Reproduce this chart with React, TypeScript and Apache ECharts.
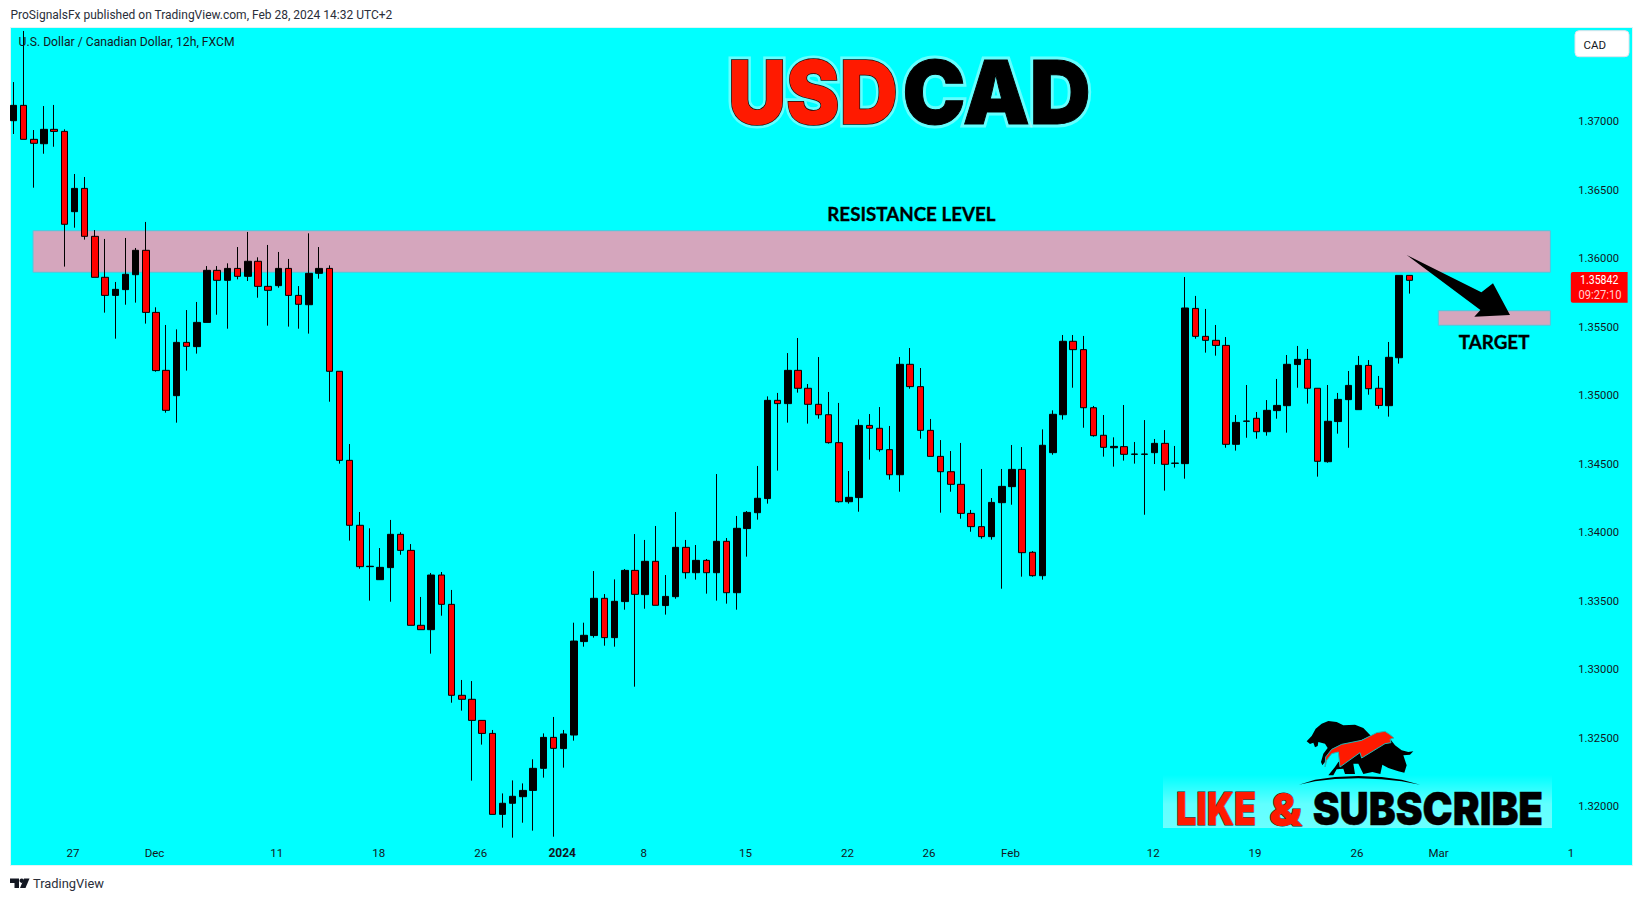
import React, { useEffect, useRef } from "react";
import * as echarts from "echarts";

const opens = [1.37007,1.37119,1.36871,1.36839,1.36944,1.36929,1.36343,1.36513,1.36163,1.35864,1.35732,1.35774,1.35883,1.36061,1.35608,1.35185,1.35000,1.35389,1.35358,1.35535,1.35915,1.35842,1.35929,1.35871,1.35981,1.35798,1.35803,1.35929,1.35732,1.35664,1.35893,1.35929,1.35178,1.34528,1.34054,1.33752,1.33657,1.33745,1.33988,1.33871,1.33324,1.33292,1.33691,1.33477,1.32813,1.32784,1.32630,1.32535,1.31944,1.32025,1.32073,1.32119,1.32280,1.32506,1.32424,1.32523,1.33205,1.33249,1.33521,1.33234,1.33497,1.33725,1.33548,1.33791,1.33468,1.33533,1.33893,1.33708,1.33798,1.33708,1.33937,1.33562,1.34030,1.34146,1.34249,1.34966,1.34942,1.35185,1.35054,1.34937,1.34861,1.34657,1.34226,1.34256,1.34783,1.34762,1.34606,1.34423,1.35229,1.35066,1.34747,1.34557,1.34445,1.34353,1.34141,1.34044,1.33971,1.34219,1.34336,1.34462,1.33857,1.33686,1.34584,1.34861,1.35397,1.35336,1.34912,1.34711,1.34620,1.34628,1.34572,1.34572,1.34584,1.34652,1.34506,1.34504,1.35637,1.35433,1.35404,1.35367,1.34645,1.34813,1.34835,1.34737,1.34891,1.34927,1.35227,1.35265,1.35054,1.34518,1.34811,1.34971,1.34898,1.35221,1.35054,1.34927,1.35277,1.35878];
const closes = [1.37119,1.36871,1.36842,1.36944,1.36929,1.36251,1.36513,1.36163,1.35864,1.35732,1.35776,1.35886,1.36061,1.35608,1.35183,1.34893,1.35389,1.35360,1.35535,1.35915,1.35842,1.35929,1.35871,1.35981,1.35798,1.35769,1.35929,1.35732,1.35667,1.35893,1.35929,1.35178,1.34528,1.34054,1.33752,1.33755,1.33747,1.33988,1.33871,1.33324,1.33292,1.33691,1.33477,1.32813,1.32784,1.32630,1.32535,1.31944,1.32025,1.32076,1.32119,1.32280,1.32506,1.32426,1.32531,1.33209,1.33251,1.33521,1.33234,1.33499,1.33725,1.33550,1.33791,1.33470,1.33535,1.33893,1.33708,1.33798,1.33708,1.33937,1.33562,1.34032,1.34148,1.34251,1.34966,1.34942,1.35185,1.35054,1.34937,1.34861,1.34657,1.34226,1.34258,1.34783,1.34762,1.34606,1.34423,1.35229,1.35066,1.34747,1.34557,1.34445,1.34353,1.34141,1.34044,1.33971,1.34221,1.34338,1.34462,1.33854,1.33686,1.34638,1.34864,1.35397,1.35336,1.34912,1.34708,1.34623,1.34630,1.34572,1.34574,1.34574,1.34652,1.34499,1.34508,1.35640,1.35433,1.35404,1.35367,1.34645,1.34805,1.34815,1.34737,1.34893,1.34929,1.35229,1.35265,1.35054,1.34521,1.34813,1.34973,1.35075,1.35221,1.35051,1.34929,1.35280,1.35878,1.35842];
const lows = [1.36910,1.36871,1.36518,1.36766,1.36817,1.35942,1.36226,1.36139,1.35864,1.35606,1.35416,1.35664,1.35679,1.35526,1.35175,1.34876,1.34803,1.35183,1.35307,1.35535,1.35591,1.35489,1.35849,1.35837,1.35715,1.35511,1.35788,1.35504,1.35489,1.35453,1.35854,1.34956,1.34504,1.33942,1.33737,1.33504,1.33657,1.33496,1.33839,1.33324,1.33292,1.33117,1.33394,1.32759,1.32701,1.32190,1.32453,1.31944,1.31847,1.31774,1.31883,1.31825,1.32212,1.31781,1.32285,1.32482,1.33168,1.33234,1.33175,1.33168,1.33438,1.32876,1.33445,1.33470,1.33402,1.33518,1.33664,1.33657,1.33555,1.33504,1.33482,1.33438,1.33825,1.34095,1.34212,1.34453,1.34803,1.35022,1.34796,1.34832,1.34650,1.34219,1.34212,1.34153,1.34533,1.34591,1.34387,1.34299,1.35051,1.34686,1.34557,1.34146,1.34299,1.34102,1.34007,1.33956,1.33949,1.33591,1.34204,1.33679,1.33679,1.33657,1.34569,1.34825,1.35058,1.34766,1.34701,1.34555,1.34482,1.34526,1.34504,1.34131,1.34501,1.34307,1.34475,1.34394,1.35416,1.35314,1.35292,1.34620,1.34599,1.34693,1.34686,1.34708,1.34832,1.34730,1.35058,1.34942,1.34409,1.34511,1.34723,1.34620,1.34898,1.35007,1.34905,1.34847,1.35234,1.35745];
const highs = [1.37289,1.37662,1.36939,1.37114,1.37122,1.36944,1.36618,1.36596,1.36209,1.36144,1.35830,1.36151,1.36078,1.36268,1.35645,1.35516,1.35484,1.35625,1.35684,1.35946,1.35946,1.35966,1.36085,1.36195,1.36010,1.36100,1.36049,1.35998,1.35800,1.36185,1.36085,1.35951,1.35178,1.34647,1.34151,1.34032,1.33888,1.34093,1.34003,1.33917,1.33531,1.33706,1.33713,1.33582,1.32925,1.32917,1.32630,1.32560,1.32097,1.32192,1.32170,1.32346,1.32535,1.32655,1.32560,1.33343,1.33343,1.33720,1.33552,1.33659,1.33735,1.33990,1.33947,1.34049,1.33691,1.34151,1.33947,1.33910,1.33808,1.34428,1.33961,1.34122,1.34158,1.34487,1.34995,1.35020,1.35311,1.35421,1.35085,1.35282,1.35027,1.34947,1.34450,1.34827,1.34866,1.34917,1.34779,1.35282,1.35348,1.35202,1.34830,1.34676,1.34596,1.34655,1.34166,1.34465,1.34253,1.34465,1.34640,1.34625,1.33866,1.34754,1.34893,1.35443,1.35443,1.35436,1.34925,1.34859,1.34696,1.34932,1.34662,1.34822,1.34684,1.34749,1.34633,1.35866,1.35728,1.35633,1.35516,1.35428,1.34859,1.35078,1.34881,1.34968,1.35122,1.35297,1.35363,1.35341,1.35054,1.35078,1.35020,1.35180,1.35290,1.35260,1.35144,1.35392,1.35878,1.35878];

const slotCount = 159;
const tickSlots = [6, 14, 26, 36, 46, 54, 62, 72, 82, 90, 98, 112, 122, 132, 140, 153];
const tickLabels = ["27", "Dec", "11", "18", "26", "2024", "8", "15", "22", "26", "Feb", "12", "19", "26", "Mar", "1"];
const priceMin = 1.315;
const priceMax = 1.37888;
const priceStep = 0.005;
const lastPrice = "1.35842";
const countdown = "09:27:10";

const categories: string[] = Array.from({ length: slotCount }, (_, i) => {
  const k = tickSlots.indexOf(i);
  return k >= 0 ? tickLabels[k] : "";
});
const candles = opens.map((o, i) => [o, closes[i], lows[i], highs[i]]);

const measure = (text: string, font: string) => {
  const c = document.createElement("canvas").getContext("2d")!;
  c.font = font;
  return c.measureText(text).width;
};

const txt = (text: string, x: number, y: number, font: string, fill: string, width?: number, extra: any = {}, z = 20) => ({
  type: "text",
  x,
  y,
  z,
  scaleX: width ? width / measure(text, font) : 1,
  silent: true,
  style: { text, font, fill, textAlign: "left", textVerticalAlign: "middle", ...extra },
});

const poly = (points: number[][], fill: string, z = 21, extra: any = {}) => ({
  type: "polygon",
  z,
  silent: true,
  shape: { points },
  style: { fill, ...extra },
});

const lp = (pts: number[][]) => pts.map(([X, Y]) => [1295 + X / 3, 712 + Y / 3]);

const heavy = "900 88px Inter, 'Liberation Sans'";
const heavy2 = "900 45px Inter, 'Liberation Sans'";
const glow = { stroke: "rgba(225,255,255,0.45)", lineWidth: 7 };

const bear = lp([[35,88],[50,72],[62,50],[80,35],[100,27],[125,30],[145,40],[180,38],[205,48],[228,72],[180,92],[140,100],[105,125],[90,150],[82,160],[78,150],[85,125],[98,108],[90,95],[70,90],[68,102],[60,106],[55,92],[45,96]]);
const bull = lp([[285,80],[300,100],[320,115],[340,120],[355,118],[345,128],[325,130],[335,160],[328,182],[310,178],[280,168],[262,158],[256,186],[232,180],[205,186],[190,155],[175,155],[180,186],[150,186],[145,170],[125,172],[115,190],[100,190],[120,165],[130,150],[180,125],[220,110]]);
const arrowShape = lp([[90,165],[92,135],[110,112],[140,97],[200,85],[245,62],[270,58],[285,68],[297,78],[285,82],[288,92],[270,95],[200,138],[195,122],[135,165],[130,120],[110,125],[95,145]]);
const arch = lp([[12,218],[60,203],[120,195],[190,192],[260,195],[320,203],[375,218],[320,208],[260,202],[190,199],[120,201],[60,208]]);

export default function App() {
  const ref = useRef<HTMLDivElement>(null);
  useEffect(() => {
    const chart = echarts.init(ref.current!, undefined, { renderer: "svg" });
    chart.setOption({
      animation: false,
      backgroundColor: "#ffffff",
      grid: { left: 8.3, top: 0, width: 1620.2, height: 875.2, containLabel: false },
      xAxis: {
        type: "category",
        data: categories,
        boundaryGap: true,
        axisLine: { show: false },
        axisTick: { show: false },
        splitLine: { show: false },
        axisLabel: {
          inside: true,
          margin: 16.5,
          padding: [0, 3, 0, 0],
          fontFamily: "Roboto",
          fontSize: 11.5,
          color: "#131722",
          hideOverlap: false,
          interval: (_i: number, v: string) => v !== "",
          formatter: (v: string) => (v === "2024" ? "{b|2024}" : v),
          rich: { b: { fontFamily: "Roboto", fontWeight: "bold", fontSize: 12, color: "#131722" } },
        },
      },
      yAxis: {
        type: "value",
        position: "right",
        min: priceMin,
        max: priceMax,
        interval: priceStep,
        scale: true,
        axisLine: { show: false },
        axisTick: { show: false },
        splitLine: { show: false },
        axisLabel: {
          inside: true,
          margin: 9.5,
          fontFamily: "Roboto",
          fontSize: 11.2,
          color: "#131722",
          formatter: (v: number) => (v > 1.3175 && v < 1.3725 ? v.toFixed(5) : ""),
        },
      },
      series: [
        {
          type: "candlestick",
          data: candles,
          barWidth: 7,
          clip: false,
          z: 5,
          itemStyle: { color: "#000000", color0: "#ff0000", borderColor: "#000000", borderColor0: "#000000", borderWidth: 1 },
        },
      ],
      graphic: {
        elements: [
          { type: "rect", z: 0, silent: true, shape: { x: 10.5, y: 27.5, width: 1622, height: 838 }, style: { fill: "#00ffff", stroke: "#dff5f5", lineWidth: 1 } },
          { type: "rect", z: 1, silent: true, shape: { x: 33, y: 230.7, width: 1517.4, height: 41.6 }, style: { fill: "#d5a6bd", stroke: "#4fc8dd", lineWidth: 1 } },
          { type: "rect", z: 1, silent: true, shape: { x: 1438.3, y: 310.7, width: 112.1, height: 14.6 }, style: { fill: "#d5a6bd", stroke: "#4fc8dd", lineWidth: 1 } },
          txt("ProSignalsFx published on TradingView.com, Feb 28, 2024 14:32 UTC+2", 10.5, 14.7, "12.5px Roboto", "#2a2e39", 382),
          txt("U.S. Dollar / Canadian Dollar, 12h, FXCM", 18.6, 42, "12px Roboto", "#131722", 216),
          txt("USD", 728, 92, heavy, "rgba(0,0,0,0)", 170, glow, 19),
          txt("CAD", 902.5, 92, heavy, "rgba(0,0,0,0)", 188, glow, 19),
          txt("USD", 728, 92, heavy, "#ff1a00", 170, { stroke: "#111111", lineWidth: 1.5 }),
          txt("CAD", 902.5, 92, heavy, "#000000", 188, { stroke: "#000000", lineWidth: 1 }),
          txt("RESISTANCE LEVEL", 827.3, 214, "bold 18px Lato", "#000000", 168.4, { stroke: "#000000", lineWidth: 0.3 }),
          txt("TARGET", 1458.8, 342, "bold 18px Lato", "#000000", 70.7, { stroke: "#000000", lineWidth: 0.3 }),
          poly([[1406.7, 255], [1481.4, 292.3], [1493, 283.3], [1510, 315], [1474.3, 316.7], [1480.4, 310]], "#000000"),
          { type: "rect", z: 18, silent: true, shape: { x: 1163, y: 775, width: 389, height: 53 }, style: { fill: new echarts.graphic.LinearGradient(0, 0, 0, 1, [{ offset: 0, color: "rgba(255,255,255,0)" }, { offset: 0.55, color: "rgba(255,255,255,0.38)" }, { offset: 1, color: "rgba(255,255,255,0.42)" }]) } },
          poly(bear, "#000000"),
          poly(bull, "#000000"),
          poly(arrowShape, "#ff1a00", 22, { stroke: "#1fb8b8", lineWidth: 1 }),
          poly(arch, "#000000"),
          txt("LIKE", 1176, 809, heavy2, "#ff1a00", 80, { stroke: "#222222", lineWidth: 1 }),
          txt("&", 1269, 809, heavy2, "#ff1a00", 33, { stroke: "#222222", lineWidth: 1 }),
          txt("SUBSCRIBE", 1312.7, 809, heavy2, "#000000", 230.5, { stroke: "#111111", lineWidth: 0.5 }),
          { type: "rect", z: 20, silent: true, shape: { x: 1575, y: 30.7, width: 54, height: 26, r: 4 }, style: { fill: "#ffffff", stroke: "#e0e3eb", lineWidth: 1 } },
          txt("CAD", 1583.5, 44.7, "11.5px Roboto", "#131722", undefined, {}, 21),
          { type: "rect", z: 20, silent: true, shape: { x: 1570.8, y: 272, width: 56.8, height: 30.7, r: [2, 0, 0, 2] }, style: { fill: "#ff0000" } },
          txt(lastPrice, 1580, 280.6, "12px Roboto", "#ffffff", 38.5, {}, 21),
          txt(countdown, 1578.5, 294.6, "12px Roboto", "#ffd0d0", 43, {}, 21),
          poly([[10, 878.5], [19, 878.5], [19, 888], [14.5, 888], [14.5, 883], [10, 883]], "#131722"),
          { type: "circle", z: 21, silent: true, shape: { cx: 21.7, cy: 880.7, r: 2.2 }, style: { fill: "#131722" } },
          poly([[24, 878.5], [29.5, 878.5], [25.5, 888], [20, 888]], "#131722"),
          txt("TradingView", 33, 883.5, "13px Roboto", "#2a2e39", 71),
        ],
      },
    });
    return () => chart.dispose();
  }, []);
  return <div ref={ref} style={{ position: "fixed", left: 0, top: 0, width: 1643, height: 901 }} />;
}
